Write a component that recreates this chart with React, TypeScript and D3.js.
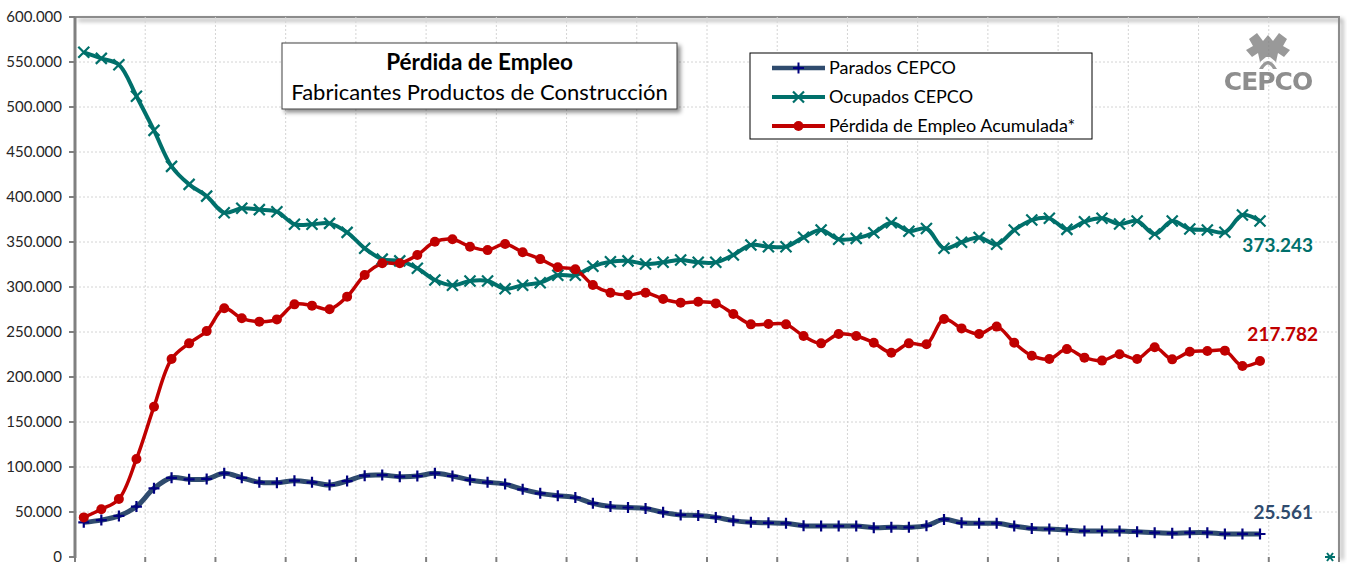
import React from 'react';
import * as d3 from 'd3';

// quarterly series, 68 quarters
const parados = [
    38500, 41000, 45600, 56000, 76300, 88000, 86300, 86700, 93000, 88000,
    83000, 82600, 84800, 83000, 80000, 84400, 90400, 91000, 89300, 90000,
    93000, 90000, 85600, 83000, 81000, 75200, 70700, 68000, 66000, 59600,
    56000, 55000, 54000, 49600, 46700, 46000, 44000, 40400, 38500, 38000,
    37400, 34800, 34400, 34400, 34400, 32600, 33000, 33000, 34800, 41800,
    38000, 37400, 37400, 34400, 31800, 31000, 30000, 28900, 28900, 28900,
    28100, 27000, 26300, 27000, 27000, 25600, 25600, 25561
];
const ocupados = [
    560800, 554000, 547000, 512000, 474000, 434000, 414000, 401000, 382600, 387400,
    386000, 383700, 369700, 369700, 370700, 360700, 343000, 331000, 329000, 320800,
    307800, 302000, 306700, 306700, 298000, 302000, 304800, 313000, 313000, 323000,
    328000, 329000, 325600, 327400, 330000, 327400, 327400, 335600, 346700, 344800,
    344800, 355200, 363300, 353000, 354000, 360300, 371400, 362000, 365000, 343000,
    349700, 355000, 347400, 363300, 374400, 376300, 364000, 372600, 376300, 370000,
    373300, 358900, 373300, 364400, 363300, 360800, 380000, 373243
];
const perdida = [
    44000, 53000, 64400, 108900, 167000, 220000, 237400, 251000, 276300, 265200,
    261500, 264000, 280700, 279300, 275200, 289300, 313300, 326300, 326300, 335600,
    350300, 353000, 344800, 341000, 347800, 338600, 331000, 321900, 319600, 302200,
    293700, 291000, 293700, 286700, 282600, 283700, 281800, 270000, 258500, 258900,
    258500, 245600, 237400, 247800, 245600, 238000, 227000, 237400, 236300, 264400,
    254000, 247800, 256000, 238000, 223700, 220000, 231000, 221500, 218200, 225200,
    220000, 233000, 219600, 228000, 228900, 229300, 212200, 217782
];
const legendLabels = ["Parados CEPCO", "Ocupados CEPCO", "Pérdida de Empleo Acumulada*"];
const titleLines = ["Pérdida de Empleo", "Fabricantes Productos de Construcción"];
const yTicks = d3.range(0, 600001, 50000);
const nQuarters = 72;

const W = 1347, H = 567;
const left = 75, right = 1339, top = 17, bottom = 557;
const font = "Lato, 'Open Sans', sans-serif";

const C_PAR = "#2f4b6e", C_PAR_MK = "#00007f", C_OCU = "#00706b", C_PER = "#c00000";

const locale = d3.formatLocale({ decimal: ",", thousands: ".", grouping: [3], currency: ["", "€"] });
const fmt = locale.format(",.0f");

const App = () => {
    const x = d3.scaleLinear().domain([0, nQuarters]).range([left, right]);
    const y = d3.scaleLinear().domain([0, 600000]).range([bottom, top]);
    const px = (i: number) => x(i + 0.5);

    const line = d3.line<number>()
        .x((d, i) => px(i))
        .y(d => y(d))
        .curve(d3.curveCatmullRom.alpha(0.5));

    const yearTicks = d3.range(0, nQuarters + 1, 4);
    const last = parados.length - 1;

    const plus = "M-5.5,0H5.5M0,-5.5V5.5";
    const cross = "M-5.5,-5.5L5.5,5.5M-5.5,5.5L5.5,-5.5";

    return (
        <div style={{ position: "absolute", left: 0, top: 0 }}>
            <svg width={W} height={H} style={{ display: "block", fontFamily: font }}>
                <defs>
                    <filter id="shadow" x="-10%" y="-10%" width="130%" height="140%">
                        <feDropShadow dx="3" dy="3" stdDeviation="2" floodColor="#000" floodOpacity="0.45" />
                    </filter>
                    <filter id="lineShadow" x="-5%" y="-50%" width="110%" height="400%">
                        <feDropShadow dx="2" dy="3" stdDeviation="1.5" floodColor="#000" floodOpacity="0.4" />
                    </filter>
                </defs>
                <rect width={W} height={H} fill="#fff" />

                {/* plot frame (top / right) with shadow */}
                <path d={`M${left},${top}H${right}V${bottom}`} fill="none" stroke="#8c8c8c" strokeWidth={2} filter="url(#shadow)" />

                {/* grid */}
                <g stroke="#d4d4d4" strokeWidth={1} strokeDasharray="2,2">
                    {yTicks.filter(t => t > 0 && t < 600000).map(t => (
                        <line key={"h" + t} x1={left} x2={right} y1={y(t)} y2={y(t)} />
                    ))}
                    {yearTicks.filter(t => t > 0 && t < nQuarters).map(t => (
                        <line key={"v" + t} x1={x(t)} x2={x(t)} y1={top} y2={bottom} />
                    ))}
                </g>

                {/* axes */}
                <g stroke="#808080">
                    <line x1={left - 2} x2={right} y1={bottom} y2={bottom} strokeWidth={3} filter="url(#lineShadow)" />
                    <line x1={left} x2={left} y1={top} y2={bottom + 1} strokeWidth={3} />
                    {yTicks.map(t => (
                        <line key={"yt" + t} x1={left - 6} x2={left} y1={y(t)} y2={y(t)} strokeWidth={2} />
                    ))}
                    {yearTicks.map(t => (
                        <line key={"xt" + t} x1={x(t)} x2={x(t)} y1={bottom} y2={bottom + 5} strokeWidth={2} />
                    ))}
                </g>
                <g fontSize={15} fill="#262626" textAnchor="end">
                    {yTicks.map(t => (
                        <text key={"yl" + t} x={62} y={y(t) + 5}>{fmt(t)}</text>
                    ))}
                </g>

                {/* logo */}
                <g fill="#808080" opacity={0.8}>
                    <path d="M1249,39 L1257,33 L1263,41 L1268,35 L1273,41 L1279,33 L1287,39 L1283,46 L1290,50 L1284,57 L1278,53 L1276,62 L1270,57 L1266,57 L1260,62 L1258,53 L1252,57 L1246,50 L1253,46 Z" />
                    <path d="M1259,69 Q1268,53 1277,69 L1273,69 Q1268,60 1263,69 Z" />
                    <text x={1268} y={90} fontSize={25} fontWeight={900} textAnchor="middle" letterSpacing={-1}
                        fontFamily="'DejaVu Sans', sans-serif" fill="#727272">CEPCO</text>
                </g>

                {/* series lines */}
                <path d={line(parados) || ""} fill="none" stroke={C_PAR} strokeWidth={5} />
                <path d={line(ocupados) || ""} fill="none" stroke={C_OCU} strokeWidth={4} />
                <path d={line(perdida) || ""} fill="none" stroke={C_PER} strokeWidth={3.5} />

                {/* markers */}
                <g stroke={C_PAR_MK} strokeWidth={2.2}>
                    {parados.map((d, i) => (
                        <path key={"p" + i} d={plus} transform={`translate(${px(i)},${y(d)})`} />
                    ))}
                </g>
                <g stroke={C_OCU} strokeWidth={2.2}>
                    {ocupados.map((d, i) => (
                        <path key={"o" + i} d={cross} transform={`translate(${px(i)},${y(d)})`} />
                    ))}
                </g>
                <g fill={C_PER}>
                    {perdida.map((d, i) => (
                        <circle key={"r" + i} cx={px(i)} cy={y(d)} r={5} />
                    ))}
                </g>

                {/* stray marker bottom right */}
                <g stroke={C_OCU} strokeWidth={2} transform={`translate(${right - 9},${bottom})`}>
                    <path d="M-5,0H5M-3,-4L3,4M-3,4L3,-4" />
                </g>

                {/* end labels */}
                <g fontSize={19} fontWeight={700} textAnchor="end">
                    <text x={1313} y={y(ocupados[last]) + 31} fill={C_OCU}>{fmt(ocupados[last])}</text>
                    <text x={1318} y={y(perdida[last]) - 20} fill={C_PER}>{fmt(perdida[last])}</text>
                    <text x={1313} y={y(parados[last]) - 15} fill={C_PAR}>{fmt(parados[last])}</text>
                </g>

                {/* title box */}
                <rect x={282} y={43} width={395} height={66} fill="#fff" stroke="#404040" strokeWidth={1} filter="url(#shadow)" />
                <text x={479.5} y={70} textAnchor="middle" fontSize={22.5} fontWeight={700} fill="#000">{titleLines[0]}</text>
                <text x={479.5} y={100} textAnchor="middle" fontSize={22} fill="#000">{titleLines[1]}</text>

                {/* legend */}
                <rect x={750} y={53} width={342} height={86} fill="#fff" stroke="#000" strokeWidth={1} />
                {legendLabels.map((lab, k) => {
                    const ly = 68 + k * 29;
                    const color = [C_PAR, C_OCU, C_PER][k];
                    return (
                        <g key={lab}>
                            <line x1={772} x2={825} y1={ly} y2={ly} stroke={color} strokeWidth={k === 0 ? 4.5 : 4} />
                            {k === 0 && <path d={plus} transform={`translate(798.5,${ly})`} stroke={C_PAR_MK} strokeWidth={2} />}
                            {k === 1 && <path d={cross} transform={`translate(798.5,${ly})`} stroke={C_OCU} strokeWidth={2.2} />}
                            {k === 2 && <circle cx={798.5} cy={ly} r={5} fill={C_PER} />}
                            <text x={829} y={ly + 6} fontSize={18} fill="#000">{lab}</text>
                        </g>
                    );
                })}
            </svg>
        </div>
    );
};

export default App;
